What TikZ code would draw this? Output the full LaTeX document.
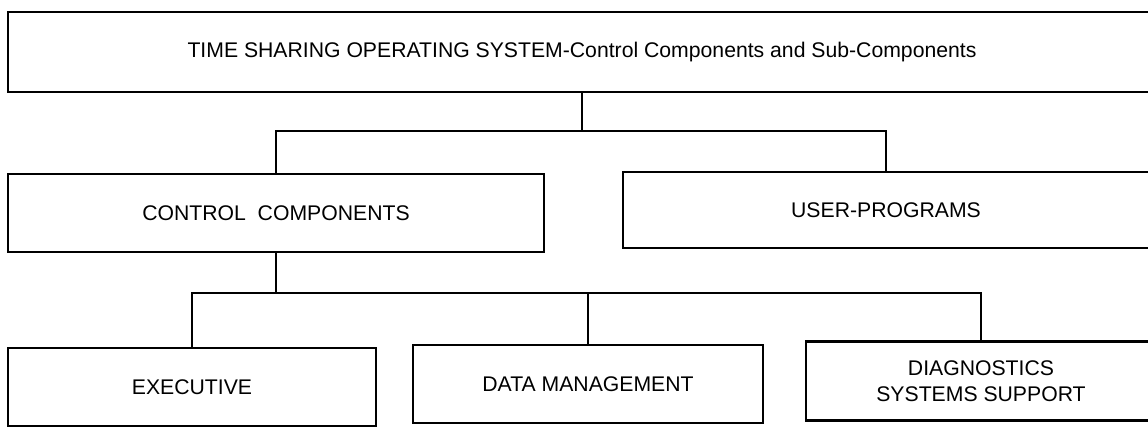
\documentclass[tikz,border=0pt]{standalone}
\usepackage{fontspec}
\setmainfont{Liberation Sans}
\usepackage{tikz}

\begin{document}
\begin{tikzpicture}[x=0.5pt, y=-0.5pt, line width=1.1pt,
  every node/.style={font=\fontsize{10.6}{13}\selectfont},
  orgbox/.style={draw, line width=1.1pt, inner sep=0pt, align=center}]
  \useasboundingbox (0,0) rectangle (1148,428);
  \clip (0,0) rectangle (1148,428);

  % top level
  \node[orgbox, minimum width=574pt, minimum height=40pt] (tsos) at (582,52)
    {TIME SHARING OPERATING SYSTEM-Control Components and Sub-Components};

  % second level
  \node[orgbox, minimum width=268pt, minimum height=39pt] (ctrl) at (276,213)
    {CONTROL\ \ COMPONENTS};
  \node[orgbox, minimum width=263pt, minimum height=38pt] (user) at (886,210)
    {USER-PROGRAMS};

  % third level
  \node[orgbox, minimum width=184pt, minimum height=39pt] (exec) at (192,387)
    {EXECUTIVE};
  \node[orgbox, minimum width=175pt, minimum height=39pt] (dm) at (588,384)
    {DATA MANAGEMENT};
  \node[orgbox, minimum width=175pt, minimum height=39.5pt] (diag) at (981,381)
    {DIAGNOSTICS\\SYSTEMS SUPPORT};

  \coordinate (busA) at (0,131);
  \coordinate (busB) at (0,293);

  \draw (tsos.south) -- (tsos.south |- busA);
  \draw (ctrl.north) -- (ctrl.north |- busA) -- (user.north |- busA) -- (user.north);
  \draw (ctrl.south) -- (ctrl.south |- busB);
  \draw (exec.north) -- (exec.north |- busB) -- (diag.north |- busB) -- (diag.north);
  \draw (dm.north) -- (dm.north |- busB);
\end{tikzpicture}
\end{document}
